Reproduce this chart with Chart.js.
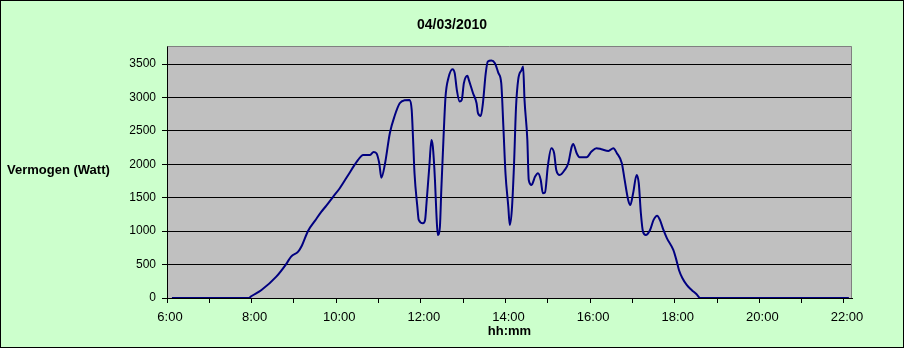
<!DOCTYPE html>
<html>
<head>
<meta charset="utf-8">
<script src="https://cdn.jsdelivr.net/npm/chart.js@4/dist/chart.umd.min.js"></script>
<style>
  html, body { margin: 0; padding: 0; background: #CCFFCC; }
  #wrap { position: relative; width: 904px; height: 348px; }
  canvas { display: block; }
</style>
</head>
<body>
<div id="wrap"><canvas id="c" width="904" height="348"></canvas></div>
<script>
// ---- data ----
const chartTitle = "04/03/2010";
const yAxisTitle = "Vermogen (Watt)";
const xAxisTitle = "hh:mm";

const times = [
  "6:07","7:56","8:00","8:14","8:35","8:49","8:56","9:06","9:11","9:20",
  "9:30","9:39","9:46","9:55","10:05","10:17","10:26","10:31","10:38","10:48",
  "10:53","10:57","11:01","11:04","11:09","11:16","11:23","11:30","11:37","11:44",
  "11:47","11:49","11:51","11:55","11:57","12:03","12:06","12:08","12:12","12:15",
  "12:17","12:20","12:22","12:24","12:27","12:29","12:32","12:35","12:39","12:45",
  "12:48","12:51","12:55","12:58","13:01","13:06","13:08","13:14","13:19","13:21",
  "13:25","13:28","13:32","13:35","13:40","13:45","13:50","13:54","13:57","14:00",
  "14:04","14:06","14:09","14:12","14:15","14:18","14:23","14:25","14:27","14:31",
  "14:33","14:37","14:42","14:46","14:50","14:53","14:56","15:00","15:05","15:09",
  "15:12","15:17","15:24","15:29","15:34","15:36","15:41","15:45","15:55","16:02",
  "16:09","16:16","16:26","16:33","16:38","16:45","16:49","16:54","16:57","17:01",
  "17:06","17:09","17:12","17:15","17:19","17:25","17:30","17:35","17:39","17:44",
  "17:49","17:58","18:03","18:06","18:11","18:17","18:24","18:31","18:36","22:07"
];

const watts = [
  0,0,30,120,320,508,620,693,778,1003,
  1157,1292,1382,1507,1642,1841,1991,2066,2141,2141,
  2186,2166,2016,1800,2000,2465,2730,2914,2960,2964,
  2814,2365,1866,1367,1168,1118,1168,1418,1966,2365,
  2265,1766,1268,943,1067,1617,2365,3014,3289,3424,
  3364,3114,2939,2964,3214,3324,3264,3064,2914,2765,
  2724,2914,3364,3538,3553,3513,3364,3214,2565,1866,
  1367,1093,1317,1966,2864,3264,3414,3464,2964,2365,
  1766,1692,1816,1866,1766,1567,1577,1966,2241,2166,
  1916,1841,1916,2016,2265,2305,2166,2106,2106,2190,
  2241,2226,2200,2241,2166,2016,1766,1467,1392,1567,
  1841,1717,1268,993,943,1018,1168,1232,1168,1018,
  893,719,543,419,295,195,120,55,0,0
];

const yTickValues = [0, 500, 1000, 1500, 2000, 2500, 3000, 3500];
const xTickHours = [6,7,8,9,10,11,12,13,14,15,16,17,18,19,20,21,22];
const xMin = 6, xMax = 22.19;     // hours
const yMin = 0, yMax = 3770;      // watt

function toHours(s) {
  const [h, m] = s.split(":").map(Number);
  return h + m / 60;
}
const points = times.map((t, i) => ({ x: toHours(t), y: watts[i] }));

const bgPlugin = {
  id: 'bg',
  beforeDraw(chart) {
    const { ctx, chartArea: a } = chart;
    ctx.save();
    ctx.fillStyle = '#CCFFCC';
    ctx.fillRect(0, 0, chart.width, chart.height);
    ctx.fillStyle = '#C0C0C0';
    ctx.fillRect(a.left, a.top, a.right - a.left, a.bottom - a.top);
    ctx.restore();
  },
  beforeDatasetsDraw(chart) {
    const { ctx, chartArea: a } = chart;
    ctx.save();
    ctx.strokeStyle = '#808080';
    ctx.lineWidth = 1;
    ctx.beginPath();
    ctx.moveTo(Math.round(a.left) + 0.5, Math.round(a.top) + 0.5);
    ctx.lineTo(Math.round(a.right) - 0.5, Math.round(a.top) + 0.5);
    ctx.lineTo(Math.round(a.right) - 0.5, Math.round(a.bottom));
    ctx.stroke();
    ctx.restore();
  },
  afterDraw(chart) {
    const { ctx } = chart;
    ctx.save();
    ctx.fillStyle = '#000';
    ctx.font = 'bold 13px "Liberation Sans", Arial, sans-serif';
    ctx.textAlign = 'left';
    ctx.textBaseline = 'middle';
    ctx.fillText(yAxisTitle, 7, 170);
    ctx.strokeStyle = '#000';
    ctx.lineWidth = 1;
    ctx.strokeRect(0.5, 0.5, chart.width - 1, chart.height - 1);
    ctx.restore();
  }
};

new Chart(document.getElementById('c'), {
  type: 'line',
  data: {
    datasets: [{
      data: points,
      borderColor: '#000080',
      borderWidth: 2,
      pointRadius: 0,
      fill: false,
      cubicInterpolationMode: 'monotone',
      yAxisID: 'y',
      xAxisID: 'x'
    }]
  },
  options: {
    responsive: false,
    animation: false,
    events: [],
    layout: { padding: { left: 0, right: 0, top: 0, bottom: 4.5 } },
    plugins: {
      legend: { display: false },
      tooltip: { enabled: false },
      title: {
        display: true,
        text: chartTitle,
        color: '#000',
        font: { family: '"Liberation Sans", Arial, sans-serif', size: 14, weight: 'bold', lineHeight: 1.2 },
        padding: { top: 16.6, bottom: 12.6 }
      }
    },
    scales: {
      x: {
        type: 'linear',
        min: xMin,
        max: xMax,
        afterFit(scale) { scale.height = 45.5; },
        afterBuildTicks(scale) { scale.ticks = xTickHours.map(v => ({ value: v })); },
        grid: { display: true, drawOnChartArea: false, drawTicks: true, tickLength: 5, color: '#000', lineWidth: 1 },
        border: { display: true, color: '#000', width: 1 },
        ticks: {
          autoSkip: false,
          maxRotation: 0,
          minRotation: 0,
          padding: 7,
          labelOffset: 3,
          color: '#000',
          font: { family: '"Liberation Sans", Arial, sans-serif', size: 13 },
          callback: (v) => (Math.round(v) % 2 === 0 ? Math.round(v) + ':00' : '')
        },
        title: {
          display: true,
          text: xAxisTitle,
          color: '#000',
          font: { family: '"Liberation Sans", Arial, sans-serif', size: 13, weight: 'bold', lineHeight: 1.2 },
          padding: { top: 0, bottom: 4 }
        }
      },
      y: {
        type: 'linear',
        position: 'left',
        min: yMin,
        max: yMax,
        afterFit(scale) { scale.width = 167; },
        afterBuildTicks(scale) { scale.ticks = yTickValues.map(v => ({ value: v })); },
        grid: { display: true, drawOnChartArea: true, drawTicks: true, tickLength: 5, color: '#000', lineWidth: 1 },
        border: { display: true, color: '#000', width: 1 },
        ticks: {
          padding: 6,
          color: '#000',
          font: { family: '"Liberation Sans", Arial, sans-serif', size: 12 },
          callback: (v) => String(v)
        }
      },
      yRightSpace: {
        type: 'linear',
        position: 'right',
        display: true,
        afterFit(scale) { scale.width = 52; },
        grid: { display: false, drawTicks: false },
        border: { display: false },
        ticks: { display: false }
      }
    }
  },
  plugins: [bgPlugin]
});
</script>
</body>
</html>
